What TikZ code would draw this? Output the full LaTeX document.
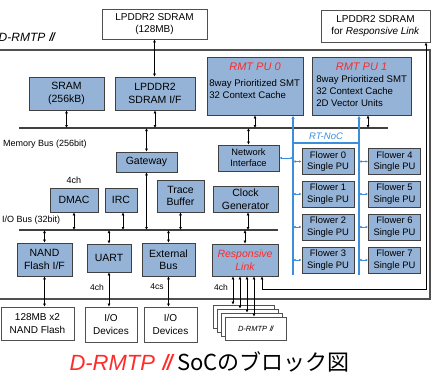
\documentclass[tikz,border=0pt]{standalone}
\usepackage{fontspec}
\setmainfont{Liberation Sans}
\newfontfamily\jpfont{Noto Sans CJK JP}
\newfontfamily\romslant[FakeSlant=0.2]{DejaVu Sans}
\usepackage{xcolor}
\definecolor{BlkFill}{HTML}{95B3D7}
\definecolor{BlkLine}{HTML}{404040}
\definecolor{NocBlue}{HTML}{3C8DDA}
\definecolor{LinkRed}{HTML}{FF2A2A}
\definecolor{FrameGray}{HTML}{505050}
\usepackage{tikz}
\usetikzlibrary{arrows.meta,positioning,calc}
\newcommand{\romtwo}{{\romslant Ⅱ}}
\tikzset{
  blk/.style={draw=BlkLine, fill=BlkFill, line width=0.9pt, align=center, inner sep=0pt,
              font=\fontsize{10.5}{12.5}\selectfont},
  extblk/.style={draw=FrameGray, fill=white, line width=0.8pt, align=center, inner sep=0pt,
              font=\fontsize{10}{12.5}\selectfont},
  flw/.style={blk, minimum width=52pt, minimum height=26pt, font=\fontsize{9.4}{11.5}\selectfont},
  stackbox/.style={draw=FrameGray, fill=white, line width=0.7pt, minimum width=61pt, minimum height=23pt,
              inner sep=0pt, font=\itshape\fontsize{7.5}{9}\selectfont},
  busline/.style={draw=BlkLine, line width=1.3pt},
  dbl/.style={{Latex[length=3pt,width=3pt]}-{Latex[length=3pt,width=3pt]}, line width=0.7pt, black},
  nocline/.style={NocBlue, line width=1.4pt},
  nocarr/.style={-{Latex[length=3.5pt,width=3.5pt]}, NocBlue, line width=1.4pt},
  nocdbl/.style={{Latex[length=2.5pt,width=2.5pt]}-{Latex[length=2.5pt,width=2.5pt]}, NocBlue, line width=0.9pt},
  lbl/.style={inner sep=0pt, font=\fontsize{9}{11}\selectfont},
  putitle/.style={inner sep=0pt, text=LinkRed, font=\itshape\fontsize{11}{13}\selectfont},
  putext/.style={inner sep=0pt, align=left, font=\fontsize{9.6}{12}\selectfont}
}

\begin{document}
\begin{tikzpicture}[x=1pt, y=-1pt, node distance=4pt and 4pt]
\useasboundingbox (0,0) rectangle (431,375);
% memories outside the chip
\node[extblk, minimum width=105pt, minimum height=30pt] (ddr) at (154.5,24) {LPDDR2 SDRAM\\(128MB)};
\node[extblk, minimum width=109pt, minimum height=32pt] (ddrrl) at (375.5,26) {LPDDR2 SDRAM\\for \textit{Responsive Link}};
% chip frame
\draw[FrameGray, line width=1.3pt] (0,50) -- (430,50) -- (430,299) -- (0,299);
\node[anchor=west, inner sep=0pt, font=\itshape\fontsize{12}{14}\selectfont] (chipname) at (-1.5,37) {D-RMTP~\romtwo};
% upper row
\node[blk, minimum width=75pt, minimum height=33pt] (sram) at (66.5,93.5) {SRAM\\(256kB)};
\node[blk, minimum width=80pt, minimum height=33pt] (sdramif) at (155,93.5) {LPDDR2\\SDRAM I/F};
\node[blk, minimum width=96pt, minimum height=58pt] (pu0) at (255,86) {};
\node[blk, minimum width=99pt, minimum height=58pt] (pu1) at (361.5,86) {};
\node[putitle, below=6pt of pu0.north] (pu0t) {RMT PU 0};
\node[putitle, below=6pt of pu1.north] (pu1t) {RMT PU 1};
\node[putext, anchor=north west] (pu0x) at ([shift={(2.5pt,-23pt)}]pu0.north west) {8way Prioritized SMT\\32 Context Cache};
\node[putext, anchor=north west] (pu1x) at ([shift={(4.5pt,-19pt)}]pu1.north west) {8way Prioritized SMT\\32 Context Cache\\2D Vector Units};
% memory bus
\coordinate (membusL) at (19,128);
\coordinate (membusR) at (388,128);
\draw[busline] (membusL) -- (membusR);
\node[lbl, anchor=west] (memlbl) at (3,144) {Memory Bus (256bit)};
% middle row
\node[blk, minimum width=61pt, minimum height=20pt] (gateway) at (146.5,162) {Gateway};
\node[blk, minimum width=61pt, minimum height=26pt, font=\fontsize{9.3}{11}\selectfont] (netif) at (248.5,158) {Network\\Interface};
\node[blk, minimum width=48pt, minimum height=24pt] (dmac) at (74,200) {DMAC};
\node[lbl, above=4pt of dmac] (dmacch) {4ch};
\node[blk, minimum width=32pt, minimum height=24pt] (irc) at (121,200) {IRC};
\node[blk, minimum width=47pt, minimum height=32pt] (trace) at (180.5,196) {Trace\\Buffer};
\node[blk, minimum width=65pt, minimum height=26pt] (clock) at (245.5,199) {Clock\\Generator};
% I/O bus
\coordinate (iobusL) at (19,230);
\coordinate (iobusR) at (278,230);
\draw[busline] (iobusL) -- (iobusR);
\node[lbl, anchor=west] (iolbl) at (2,220) {I/O Bus (32bit)};
% lower row
\node[blk, minimum width=55pt, minimum height=33pt] (nand) at (44.5,259.5) {NAND\\Flash I/F};
\node[blk, minimum width=44pt, minimum height=28pt] (uart) at (109,258) {UART};
\node[blk, minimum width=53pt, minimum height=33pt] (extbus) at (168.5,259.5) {External\\Bus};
\node[blk, minimum width=66pt, minimum height=32pt, text=LinkRed, font=\itshape\fontsize{10.5}{12.5}\selectfont] (rlink) at (245,260) {Responsive\\Link};
% Flower PUs
\node[flw] (f0) at (328,161.5) {Flower 0\\Single PU};
\node[flw] (f1) at (328,194) {Flower 1\\Single PU};
\node[flw] (f2) at (328,227) {Flower 2\\Single PU};
\node[flw] (f3) at (328,260) {Flower 3\\Single PU};
\node[flw] (f4) at (394.5,161.5) {Flower 4\\Single PU};
\node[flw] (f5) at (394.5,194) {Flower 5\\Single PU};
\node[flw] (f6) at (394.5,227) {Flower 6\\Single PU};
\node[flw] (f7) at (394.5,260) {Flower 7\\Single PU};
% devices outside the chip
\node[extblk, minimum width=73pt, minimum height=33pt] (nandmem) at (37.5,323.5) {128MB x2\\NAND Flash};
\node[extblk, minimum width=52pt, minimum height=35pt] (iodev1) at (111,324.5) {I/O\\Devices};
\node[extblk, minimum width=53pt, minimum height=35pt] (iodev2) at (170.5,324.5) {I/O\\Devices};
\node[stackbox] (drm0) at (243.5,316.5) {};
\node[stackbox] (drm1) at (247.5,320.5) {};
\node[stackbox] (drm2) at (251.5,324.5) {};
\node[stackbox] (drm3) at (255.5,328.5) {D-RMTP~\romtwo};
\node[lbl, font=\fontsize{8.5}{10}\selectfont] (uartch) at (97,287) {4ch};
\node[lbl, font=\fontsize{8.5}{10}\selectfont] (extcs) at (157,287) {4cs};
\node[lbl, font=\fontsize{8.5}{10}\selectfont] (rlch) at (221,287) {4ch};
% memory bus links
\draw[dbl] (ddr.south) -- (ddr.south |- sdramif.north);
\draw[dbl] (sram.south) -- (sram.south |- membusL);
\draw[dbl] (sdramif.south) -- (sdramif.south |- membusL);
\draw[dbl] (pu0.south) -- (pu0.south |- membusL);
\draw[dbl] ([xshift=6.5pt]pu1.south) -- ([xshift=6.5pt]pu1.south |- membusL);
\draw[dbl] (gateway.north |- membusL) -- (gateway.north);
\draw[dbl] (netif.north |- membusL) -- (netif.north);
% I/O bus links
\draw[dbl] (gateway.south) -- (gateway.south |- iobusL);
\draw[dbl] (dmac.south) -- (dmac.south |- iobusL);
\draw[dbl] ([xshift=2pt]irc.south) -- ([xshift=2pt]irc.south |- iobusL);
\draw[dbl] (trace.south) -- (trace.south |- iobusL);
\draw[dbl] ([xshift=2.5pt]clock.south) -- ([xshift=2.5pt]clock.south |- iobusL);
\draw[dbl] (nand.north |- iobusL) -- (nand.north);
\draw[dbl] (uart.north |- iobusL) -- (uart.north);
\draw[dbl] (extbus.north |- iobusL) -- (extbus.north);
\draw[dbl] (rlink.north |- iobusL) -- (rlink.north);
% off-chip links
\draw[dbl] (nand.south) -- (nand.south |- nandmem.north);
\draw[dbl] (uart.south) -- (uart.south |- iodev1.north);
\draw[dbl] (extbus.south) -- (extbus.south |- iodev2.north);
\draw[dbl] ([xshift=-12pt]rlink.south) -- ([xshift=-12pt]rlink.south |- drm0.north);
\draw[dbl] ([xshift=-5pt]rlink.south) -- ([xshift=-5pt]rlink.south |- drm1.north);
\draw[dbl] ([xshift=2pt]rlink.south) -- ([xshift=2pt]rlink.south |- drm2.north);
\draw[dbl] ([xshift=9pt]rlink.south) -- ([xshift=9pt]rlink.south |- drm3.north);
\coordinate (rlturnR) at (426,289);
\coordinate (rlturnL) at (262,289);
\draw[dbl] (rlturnR |- ddrrl.south) -- (rlturnR) -- (rlturnL) -- (rlturnL |- rlink.south);
% RT-NoC
\coordinate (noc0b) at (293,275);
\coordinate (noc1b) at (359,275);
\coordinate (nocbar) at (293,143);
\draw[nocarr] (noc0b) -- (noc0b |- pu0.south);
\draw[nocarr] (noc1b) -- (noc1b |- pu1.south);
\draw[nocline] (nocbar) -- (nocbar -| noc1b);
\node[inner sep=0pt, text=NocBlue, font=\itshape\fontsize{9.5}{11}\selectfont, above=3pt of $(nocbar)!0.5!(nocbar -| noc1b)$] (noclbl) {RT-NoC};
\draw[nocdbl] (netif.east) -- (netif.east -| noc0b);
\draw[nocdbl] (f0.west -| noc0b) -- (f0.west);
\draw[nocdbl] (f1.west -| noc0b) -- (f1.west);
\draw[nocdbl] (f2.west -| noc0b) -- (f2.west);
\draw[nocdbl] (f3.west -| noc0b) -- (f3.west);
\draw[nocdbl] (f4.west -| noc1b) -- (f4.west);
\draw[nocdbl] (f5.west -| noc1b) -- (f5.west);
\draw[nocdbl] (f6.west -| noc1b) -- (f6.west);
\draw[nocdbl] (f7.west -| noc1b) -- (f7.west);
% caption
\node[inner sep=0pt, font=\fontsize{22}{25}\selectfont] (caption) at (209.5,362)
  {{\color{LinkRed}\itshape D-RMTP~\romtwo}\hspace{5pt}{\jpfont SoCのブロック図}};
\end{tikzpicture}
\end{document}
